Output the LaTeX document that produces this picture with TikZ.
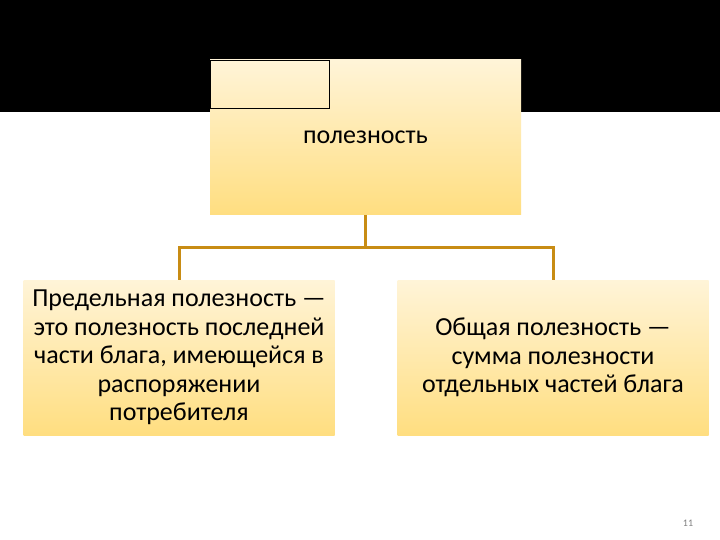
\documentclass[tikz,border=0pt]{standalone}
\usepackage{fontspec}
\setmainfont{Carlito}
\usetikzlibrary{calc}
\definecolor{boxtop}{RGB}{255,244,216}
\definecolor{boxbot}{RGB}{255,222,128}
\definecolor{wire}{RGB}{200,140,20}
\tikzset{
    conceptbox/.style = {
        rectangle, align=center,
        outer sep=0,
        inner sep=2pt,
        top color=boxtop, bottom color=boxbot,
        minimum width=311pt,
        minimum height=155pt,
        font=\fontsize{26}{28.5}\selectfont
    },
    wire/.style = {
        draw=wire, line width=3pt
    }
}

\begin{document}
\begin{tikzpicture}[x=1pt,y=-1pt]

% 1. page and black band
\useasboundingbox (0,0) rectangle (720,540);
\fill[white] (0,0) rectangle (720,540);
\fill[black] (0,0) rectangle (720,112);

% 2. boxes
\node[conceptbox] (topbox) at (365.5,137.5) {полезность};
\node[draw,very thin,minimum width=119pt,minimum height=48pt,anchor=north west,outer sep=0] (corner) at (topbox.north west) {};
\node[conceptbox] (leftbox) at (179,357.5)
  {Предельная полезность —\\ это полезность последней\\ части блага, имеющейся в\\ распоряжении\\ потребителя};
\node[conceptbox] (rightbox) at (553,357.5)
  {Общая полезность —\\ сумма полезности\\ отдельных частей блага};

% 3. connectors
\coordinate (split) at ($(topbox.south)+(0,32)$);
\draw[wire] (topbox.south) -- (split);
\draw[wire] (split) -| (leftbox.north);
\draw[wire] (split) -| (rightbox.north);

% 4. page number
\node[text=gray,font=\fontsize{10}{12}\selectfont] (pagenum) at (688,523) {11};

\end{tikzpicture}
\end{document}
